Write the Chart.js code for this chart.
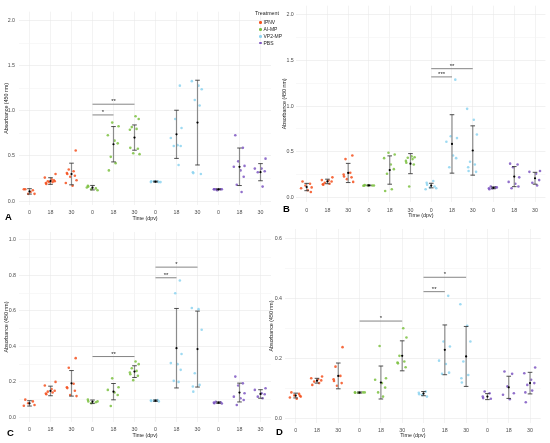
<!DOCTYPE html>
<html>
<head>
<meta charset="utf-8">
<script src="https://cdn.jsdelivr.net/npm/chart.js@4.4.0/dist/chart.umd.min.js"></script>
<style>
  body { margin: 0; background: #fff; font-family: "Liberation Sans", Arial, sans-serif; }
  #wrap { position: relative; width: 550px; height: 443px; overflow: hidden; }
  canvas { position: absolute; }
  .tag { position: absolute; font-weight: bold; font-size: 9.5px; line-height: 1; color: #000; }
  .leg { position: absolute; font-size: 5px; line-height: 1; color: #222; white-space: nowrap; }
  .dot { position: absolute; width: 2.6px; height: 2.6px; border-radius: 50%; }
</style>
</head>
<body>
<div id="wrap">
  <canvas id="panelA" width="275" height="222" style="left:0;top:0"></canvas>
  <canvas id="panelB" width="275" height="222" style="left:275px;top:0"></canvas>
  <canvas id="panelC" width="275" height="221" style="left:0;top:222px"></canvas>
  <canvas id="panelD" width="285" height="221" style="left:265px;top:222px"></canvas>
  <div class="tag" style="left:5px;top:212px">A</div>
  <div class="tag" style="left:283px;top:204px">B</div>
  <div class="tag" style="left:7px;top:428px">C</div>
  <div class="tag" style="left:276px;top:427px">D</div>
  <div id="legend"></div>
</div>
<script>
const treatments = ['IPNV', 'AI-MP', 'VP2-MP', 'PBS'];
const days = ['0', '18', '30'];
const colors = ['#F4511E', '#7CC142', '#8DD3F0', '#7E57C2'];
const xLabels = treatments.flatMap(() => days);

// panel A
const pointsA = [
  [0.13, 0.12, 0.08, 0.08, 0.13, 0.10],
  [0.30, 0.26, 0.24, 0.22, 0.22, 0.21, 0.20, 0.19, 0.23, 0.21],
  [0.56, 0.35, 0.33, 0.31, 0.30, 0.28, 0.27, 0.23, 0.20, 0.17],
  [0.17, 0.16, 0.14, 0.13, 0.12, 0.15],
  [0.87, 0.83, 0.73, 0.67, 0.64, 0.49, 0.42, 0.34],
  [0.94, 0.91, 0.82, 0.80, 0.79, 0.59, 0.58, 0.53, 0.52],
  [0.22, 0.21, 0.22, 0.21, 0.22, 0.21],
  [1.28, 0.91, 0.81, 0.70, 0.62, 0.61, 0.61, 0.40],
  [1.33, 1.28, 1.24, 1.12, 1.06, 0.32, 0.31, 0.30],
  [0.13, 0.13, 0.13, 0.13, 0.13, 0.12],
  [0.73, 0.59, 0.44, 0.39, 0.38, 0.34, 0.27, 0.18, 0.10],
  [0.47, 0.36, 0.36, 0.33, 0.32, 0.16]
];
const meansA = [0.107, 0.222, 0.30, 0.148, 0.63, 0.704, 0.215, 0.74, 0.87, 0.13, 0.38, 0.32];
const sdA = [0.03, 0.037, 0.12, 0.025, 0.196, 0.14, 0.005, 0.267, 0.47, 0.005, 0.208, 0.095];
const sigA = [[4, 5, 0.955, '*'], [4, 6, 1.074, '**']];

// panel B
const pointsB = [
  [0.175, 0.15, 0.13, 0.11, 0.10, 0.08, 0.06],
  [0.22, 0.19, 0.185, 0.175, 0.16, 0.15, 0.145, 0.14],
  [0.46, 0.42, 0.27, 0.25, 0.23, 0.22, 0.20, 0.17],
  [0.13, 0.135, 0.13, 0.132, 0.13, 0.128],
  [0.49, 0.47, 0.43, 0.36, 0.31, 0.26, 0.09, 0.07],
  [0.45, 0.44, 0.435, 0.42, 0.40, 0.38, 0.36, 0.12],
  [0.18, 0.16, 0.14, 0.12, 0.11, 0.10, 0.09],
  [1.29, 0.67, 0.65, 0.61, 0.46, 0.43, 0.33],
  [0.97, 0.85, 0.69, 0.39, 0.36, 0.33, 0.29, 0.28],
  [0.12, 0.11, 0.10, 0.09, 0.11, 0.10],
  [0.37, 0.36, 0.33, 0.22, 0.17, 0.15, 0.12, 0.10],
  [0.29, 0.28, 0.26, 0.19, 0.16, 0.13]
];
const meansB = [0.114, 0.175, 0.268, 0.132, 0.30, 0.37, 0.13, 0.586, 0.514, 0.105, 0.228, 0.21];
const sdB = [0.04, 0.025, 0.105, 0.004, 0.155, 0.11, 0.025, 0.32, 0.27, 0.01, 0.11, 0.065];
const sigB = [[7, 8, 1.32, '***'], [7, 9, 1.41, '**']];

// panel C
const pointsC = [
  [0.10, 0.09, 0.08, 0.07, 0.066],
  [0.20, 0.18, 0.16, 0.15, 0.145, 0.14, 0.135, 0.13],
  [0.334, 0.28, 0.19, 0.17, 0.165, 0.15, 0.126, 0.12],
  [0.10, 0.09, 0.085, 0.08, 0.09],
  [0.22, 0.17, 0.155, 0.14, 0.126, 0.064],
  [0.315, 0.30, 0.277, 0.262, 0.253, 0.243, 0.234, 0.21],
  [0.098, 0.095, 0.093, 0.09, 0.095],
  [0.772, 0.70, 0.357, 0.306, 0.30, 0.268, 0.206, 0.20],
  [0.617, 0.61, 0.494, 0.249, 0.183, 0.174, 0.145],
  [0.088, 0.085, 0.083, 0.08, 0.078],
  [0.23, 0.192, 0.18, 0.136, 0.117, 0.108, 0.098, 0.07],
  [0.164, 0.155, 0.136, 0.13, 0.117, 0.108]
];
const meansC = [0.079, 0.149, 0.192, 0.088, 0.145, 0.258, 0.094, 0.39, 0.385, 0.083, 0.14, 0.132];
const sdC = [0.015, 0.027, 0.072, 0.01, 0.046, 0.033, 0.004, 0.224, 0.214, 0.004, 0.053, 0.024];
const sigC = [[4, 6, 0.343, '**'], [7, 8, 0.787, '**'], [7, 9, 0.847, '*']];

// panel D
const pointsD = [
  [0.086, 0.081, 0.076, 0.072, 0.069, 0.065, 0.075],
  [0.139, 0.133, 0.13, 0.126, 0.122, 0.117, 0.111],
  [0.237, 0.172, 0.141, 0.13, 0.124, 0.117, 0.108],
  [0.086, 0.085, 0.086, 0.085, 0.086],
  [0.241, 0.133, 0.128, 0.117, 0.102, 0.086, 0.072],
  [0.30, 0.269, 0.208, 0.189, 0.186, 0.183, 0.17],
  [0.089, 0.085, 0.08, 0.072, 0.077],
  [0.408, 0.256, 0.239, 0.192, 0.181, 0.152, 0.148],
  [0.38, 0.308, 0.256, 0.189, 0.144, 0.133, 0.119],
  [0.089, 0.083, 0.072, 0.067, 0.065],
  [0.156, 0.148, 0.106, 0.083, 0.078, 0.063],
  [0.169, 0.15, 0.128, 0.117, 0.111, 0.092, 0.086, 0.053]
];
const meansD = [0.0756, 0.125, 0.141, 0.0856, 0.119, 0.208, 0.082, 0.228, 0.206, 0.072, 0.103, 0.117];
const sdD = [0.008, 0.008, 0.043, 0.002, 0.055, 0.05, 0.007, 0.083, 0.1, 0.01, 0.037, 0.036];
const sigD = [[4, 6, 0.324, '*'], [7, 8, 0.422, '**'], [7, 9, 0.47, '*']];

// y ticks
const yMajorAB = [0, 0.5, 1, 1.5, 2];
const yMinorAB = [0.25, 0.75, 1.25, 1.75];
const yMajorC = [0, 0.2, 0.4, 0.6, 0.8, 1];
const yMinorC = [0.1, 0.3, 0.5, 0.7, 0.9];
const yMajorD = [0, 0.2, 0.4, 0.6];
const yMinorD = [0.1, 0.3, 0.5];

// horizontal spread of the jittered points (in category units)
const jitter = [-0.2, 0.16, -0.06, 0.24, -0.27, 0.05, 0.2, -0.13, 0.1, -0.22];

const FONT = 'Liberation Sans';

function buildPanel(id, pts, means, sd, sig, yMajor, yMinor, box) {
  const sets = treatments.map((t, ti) => ({
    label: t,
    data: [],
    backgroundColor: colors[ti] + 'd9',
    pointRadius: 1.3,
    borderWidth: 0
  }));
  pts.forEach((vals, gi) => {
    const ti = Math.floor(gi / 3);
    vals.forEach((v, k) => {
      sets[ti].data.push({ x: gi + 1 + jitter[(k + gi * 3) % jitter.length], y: v });
    });
  });
  const meanSet = {
    label: 'mean',
    data: means.map((m, gi) => ({ x: gi + 1, y: m })),
    backgroundColor: '#000',
    pointRadius: 1.1,
    borderWidth: 0
  };

  const bars = {
    id: 'bars',
    afterDatasetDraw(chart, args) {
      if (args.index !== 1) return;
      const { ctx, scales: { x, y } } = chart;
      ctx.save();
      means.forEach((m, gi) => {
        const px = x.getPixelForValue(gi + 1);
        const hi = y.getPixelForValue(m + sd[gi]);
        const lo = y.getPixelForValue(m - sd[gi]);
        ctx.strokeStyle = '#8c8c8c';
        ctx.lineWidth = 1.2;
        ctx.beginPath(); ctx.moveTo(px, hi); ctx.lineTo(px, lo); ctx.stroke();
        ctx.strokeStyle = '#3a3a3a';
        ctx.lineWidth = 0.9;
        ctx.beginPath();
        ctx.moveTo(px - 2.3, hi); ctx.lineTo(px + 2.3, hi);
        ctx.moveTo(px - 2.3, lo); ctx.lineTo(px + 2.3, lo);
        ctx.stroke();
      });
      sig.forEach(([a, b, v, stars]) => {
        const py = y.getPixelForValue(v);
        const x1 = x.getPixelForValue(a);
        const x2 = x.getPixelForValue(b);
        ctx.strokeStyle = '#777';
        ctx.lineWidth = 0.9;
        ctx.beginPath(); ctx.moveTo(x1, py); ctx.lineTo(x2, py); ctx.stroke();
        ctx.fillStyle = '#222';
        ctx.font = '6px "' + FONT + '"';
        ctx.textAlign = 'center';
        ctx.textBaseline = 'bottom';
        ctx.fillText(stars, (x1 + x2) / 2, py + 0.5);
      });
      ctx.restore();
    }
  };

  const tickFont = { family: FONT, size: 5.3 };
  const titleFont = { family: FONT, size: 5.3 };

  new Chart(document.getElementById(id), {
    type: 'scatter',
    data: { datasets: [meanSet, ...sets] },
    plugins: [bars],
    options: {
      responsive: false,
      animation: false,
      events: [],
      layout: { padding: { top: box.top, right: box.right, left: 0, bottom: 0 } },
      plugins: { legend: { display: false }, tooltip: { enabled: false } },
      scales: {
        x: {
          type: 'linear',
          min: 0.5,
          max: 12.5,
          afterBuildTicks: s => { s.ticks = xLabels.map((_, i) => ({ value: i + 1 })); },
          afterFit: s => { s.height = box.xHeight; },
          ticks: {
            callback: (v, i) => xLabels[i],
            autoSkip: false,
            maxRotation: 0,
            padding: box.xPad,
            color: '#4d4d4d',
            font: tickFont
          },
          grid: { color: '#ebebeb', lineWidth: 0.6, drawTicks: false },
          border: { display: false },
          title: {
            display: true,
            text: 'Time (dpv)',
            color: '#222',
            font: titleFont,
            padding: { top: 0, bottom: box.xTitlePad }
          }
        },
        y: {
          min: box.yMin,
          max: box.yMax,
          afterBuildTicks: s => {
            s.ticks = yMajor.concat(yMinor).sort((a, b) => a - b).map(v => ({ value: v }));
          },
          afterFit: s => { s.width = box.yWidth; },
          ticks: {
            callback: v => yMajor.includes(v) ? v.toFixed(1) : '',
            autoSkip: false,
            padding: box.yPad,
            color: '#4d4d4d',
            font: tickFont
          },
          grid: {
            color: c => yMajor.includes(c.tick.value) ? '#e8e8e8' : '#f3f3f3',
            lineWidth: 0.6,
            drawTicks: false
          },
          border: { display: false },
          title: {
            display: true,
            text: 'Absorbance (450 nm)',
            color: '#222',
            font: titleFont,
            padding: { top: box.yTitlePad, bottom: 0 }
          }
        }
      }
    }
  });
}

buildPanel('panelA', pointsA, meansA, sdA, sigA, yMajorAB, yMinorAB,
  { top: 11.7, right: 1, yWidth: 19, xHeight: 16.9, yMin: -0.045, yMax: 2.1, xPad: 4.6, xTitlePad: 0, yPad: 4, yTitlePad: 3.2 });
buildPanel('panelB', pointsB, meansB, sdB, sigB, yMajorAB, yMinorAB,
  { top: 0.6, right: 4.6, yWidth: 21.3, xHeight: 20, yMin: -0.05, yMax: 2.1, xPad: 5.7, xTitlePad: 3.4, yPad: 2.5, yTitlePad: 6.7 });
buildPanel('panelC', pointsC, meansC, sdC, sigC, yMajorC, yMinorC,
  { top: 10, right: 1, yWidth: 19, xHeight: 21, yMin: -0.026, yMax: 1.045, xPad: 4.2, xTitlePad: 4.7, yPad: 3, yTitlePad: 3.7 });
buildPanel('panelD', pointsD, meansD, sdD, sigD, yMajorD, yMinorD,
  { top: 7, right: 9.3, yWidth: 20, xHeight: 20, yMin: -0.016, yMax: 0.631, xPad: 4.4, xTitlePad: 4.7, yPad: 3, yTitlePad: 3.7 });

// legend
const legend = document.getElementById('legend');
let head = document.createElement('div');
head.className = 'leg';
head.style.left = '255px';
head.style.top = '10.5px';
head.style.fontSize = '5.3px';
head.textContent = 'Treatment';
legend.appendChild(head);
treatments.forEach((t, i) => {
  const dot = document.createElement('div');
  dot.className = 'dot';
  dot.style.background = colors[i];
  dot.style.left = '259.4px';
  dot.style.top = (21.4 + i * 6.8) + 'px';
  legend.appendChild(dot);
  const txt = document.createElement('div');
  txt.className = 'leg';
  txt.style.left = '263.5px';
  txt.style.top = (20.2 + i * 6.8) + 'px';
  txt.textContent = t;
  legend.appendChild(txt);
});
</script>
</body>
</html>
